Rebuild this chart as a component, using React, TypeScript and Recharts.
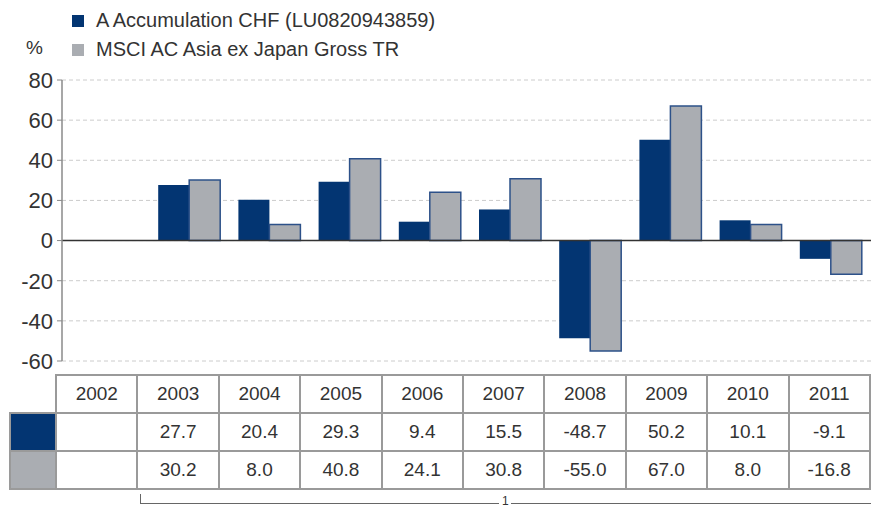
import { BarChart, Bar, XAxis, YAxis, CartesianGrid, ReferenceLine } from 'recharts'

const years = ['2002', '2003', '2004', '2005', '2006', '2007', '2008', '2009', '2010', '2011']
const fundValues: (number | null)[] = [null, 27.7, 20.4, 29.3, 9.4, 15.5, -48.7, 50.2, 10.1, -9.1]
const indexValues: (number | null)[] = [null, 30.2, 8.0, 40.8, 24.1, 30.8, -55.0, 67.0, 8.0, -16.8]
const yTicks = [80, 60, 40, 20, 0, -20, -40, -60]
const fundName = 'A Accumulation CHF (LU0820943859)'
const indexName = 'MSCI AC Asia ex Japan Gross TR'

const BLUE = '#033572'
const GREY = '#aaadb2'
const TEXT = '#333333'
const FONT = '"Liberation Sans", Arial, Helvetica, sans-serif'

const fmt = (v: number | null) => (v === null ? '' : v.toFixed(1))

export default function App() {
  const data = years.map((y, i) => ({ year: y, fund: fundValues[i], index: indexValues[i] }))

  const cell: React.CSSProperties = {
    border: '2px solid #9a9a9a',
    width: 81,
    height: 36,
    padding: 0,
    textAlign: 'center',
    fontSize: 19,
    color: TEXT,
  }
  const swatch = (c: string): React.CSSProperties => ({
    ...cell,
    width: 46,
    background: c,
  })

  return (
    <div style={{ position: 'absolute', left: 0, top: 0, width: 871, height: 507, fontFamily: FONT, background: '#fff', overflow: 'hidden' }}>
      {/* legend */}
      <div style={{ position: 'absolute', left: 72, top: 6, fontSize: 20, color: TEXT, lineHeight: '29px' }}>
        <div style={{ display: 'flex', alignItems: 'center' }}>
          <span style={{ width: 12, height: 12, background: BLUE, display: 'inline-block', marginRight: 12 }} />
          {fundName}
        </div>
        <div style={{ display: 'flex', alignItems: 'center' }}>
          <span style={{ width: 12, height: 12, background: GREY, display: 'inline-block', marginRight: 12 }} />
          {indexName}
        </div>
      </div>
      <div style={{ position: 'absolute', left: 26, top: 37, fontSize: 19, color: TEXT }}>%</div>

      <div style={{ position: 'absolute', left: 0, top: 0 }}>
        <BarChart
          width={871}
          height={386}
          data={data}
          margin={{ top: 80, right: 0, bottom: 25, left: 0 }}
          barGap={0}
          barSize={31}
        >
          <CartesianGrid vertical={false} stroke="#cccccc" strokeDasharray="4 3" />
          <XAxis dataKey="year" hide padding={{ left: 7, right: 0 }} />
          <YAxis
            width={62}
            domain={[-60, 80]}
            ticks={yTicks}
            interval={0}
            axisLine={{ stroke: '#8a8a8a', strokeWidth: 1.5 }}
            tickLine={{ stroke: '#8a8a8a' }}
            tickSize={5}
            tick={{ fill: TEXT, fontSize: 22, fontFamily: FONT, dx: -2 }}
          />
          <Bar dataKey="fund" fill={BLUE} isAnimationActive={false} />
          <Bar dataKey="index" fill={GREY} stroke="#2d5189" strokeWidth={1.5} isAnimationActive={false} />
          <ReferenceLine y={0} stroke="#333" strokeWidth={1.5} />
        </BarChart>
      </div>

      {/* data table */}
      <table
        style={{
          position: 'absolute',
          left: 9,
          top: 374,
          borderCollapse: 'collapse',
          tableLayout: 'fixed',
          fontFamily: FONT,
          background: '#fff',
        }}
      >
        <tbody>
          <tr>
            <td style={{ width: 46, border: 'none', padding: 0 }} />
            {years.map((y) => (
              <td key={y} style={cell}>{y}</td>
            ))}
          </tr>
          <tr>
            <td style={swatch(BLUE)} />
            {fundValues.map((v, i) => (
              <td key={i} style={cell}>{fmt(v)}</td>
            ))}
          </tr>
          <tr>
            <td style={swatch(GREY)} />
            {indexValues.map((v, i) => (
              <td key={i} style={cell}>{fmt(v)}</td>
            ))}
          </tr>
        </tbody>
      </table>

      {/* footnote bracket */}
      <div style={{ position: 'absolute', left: 140, top: 494, width: 1, height: 10, background: '#666' }} />
      <div style={{ position: 'absolute', left: 140, top: 503, width: 359, height: 1, background: '#666' }} />
      <div style={{ position: 'absolute', left: 502, top: 496, fontSize: 12, lineHeight: '11px', color: TEXT }}>1</div>
      <div style={{ position: 'absolute', left: 511, top: 503, width: 360, height: 1, background: '#666' }} />
    </div>
  )
}
